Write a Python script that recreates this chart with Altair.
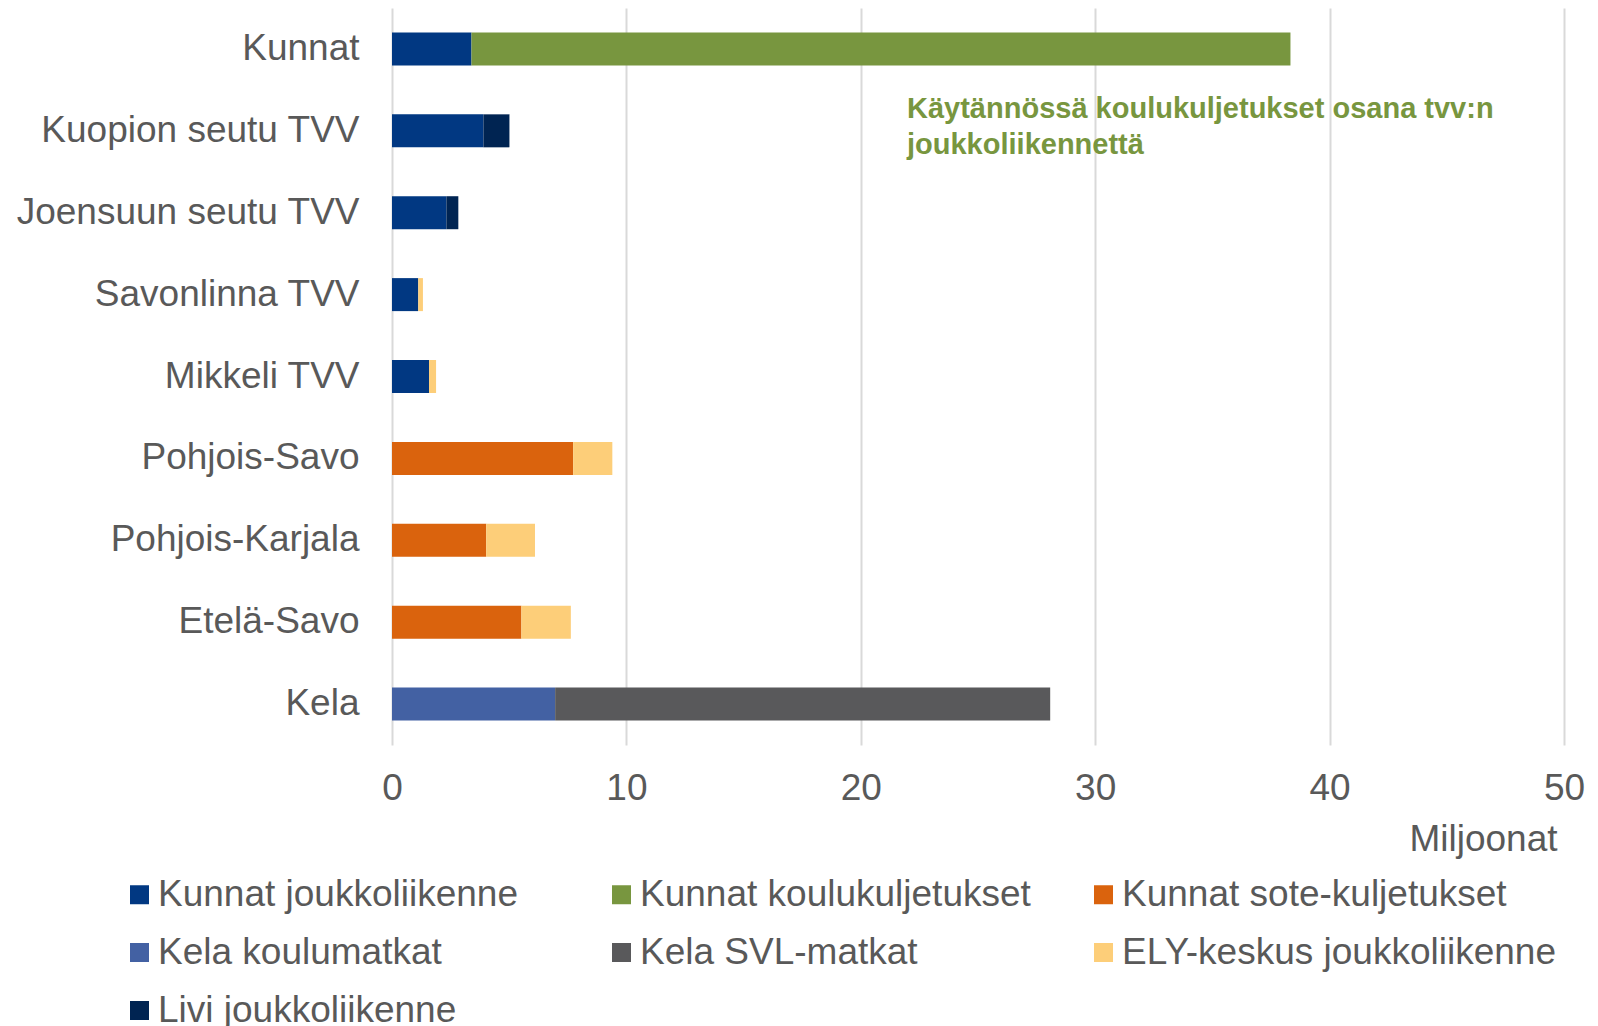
import altair as alt
import pandas as pd

categories = ["Kunnat", "Kuopion seutu TVV", "Joensuun seutu TVV", "Savonlinna TVV",
              "Mikkeli TVV", "Pohjois-Savo", "Pohjois-Karjala", "Etelä-Savo", "Kela"]

series = ["Kunnat joukkoliikenne", "Kunnat koulukuljetukset", "Kunnat sote-kuljetukset",
          "Kela koulumatkat", "Kela SVL-matkat", "ELY-keskus joukkoliikenne", "Livi joukkoliikenne"]
colors = ["#013882", "#78963F", "#DA630D", "#4361A3", "#59595B", "#FDCE79", "#002452"]

kunnat_joukko = [3.39, 3.90, 2.32, 1.12, 1.58, 0, 0, 0, 0]
kunnat_koulu = [34.94, 0, 0, 0, 0, 0, 0, 0, 0]
kunnat_sote = [0, 0, 0, 0, 0, 7.73, 4.02, 5.52, 0]
kela_koulu = [0, 0, 0, 0, 0, 0, 0, 0, 6.96]
kela_svl = [0, 0, 0, 0, 0, 0, 0, 0, 21.12]
ely_joukko = [0, 0, 0, 0.20, 0.30, 1.67, 2.08, 2.11, 0]
livi_joukko = [0, 1.11, 0.51, 0, 0, 0, 0, 0, 0]

values_by_series = [kunnat_joukko, kunnat_koulu, kunnat_sote, kela_koulu, kela_svl, ely_joukko, livi_joukko]

x_ticks = [0, 10, 20, 30, 40, 50]
annotation = "Käytännössä koulukuljetukset osana tvv:n\njoukkoliikennettä"

rows = []
for si, (name, vals) in enumerate(zip(series, values_by_series)):
    for cat, v in zip(categories, vals):
        if v > 0:
            rows.append({"cat": cat, "series": name, "value": v, "idx": si})
df = pd.DataFrame(rows)

txt = "#595959"
FONT = "Liberation Sans"
FS = 37

bars = alt.Chart(df).mark_bar(size=33).encode(
    y=alt.Y("cat:N", sort=categories,
            scale=alt.Scale(paddingInner=0.6, paddingOuter=0.3),
            axis=alt.Axis(title=None, ticks=False, domain=False, labelFontSize=FS,
                          labelColor=txt, labelPadding=33, labelFont=FONT, labelLimit=0)),
    x=alt.X("value:Q", stack="zero",
            scale=alt.Scale(domain=[0, 50], nice=False),
            axis=alt.Axis(values=x_ticks, title="Miljoonat", titleAnchor="end",
                          titleAlign="right", titleX=1165,
                          titleFontSize=FS, titleFontWeight="normal", titleColor=txt,
                          titleFont=FONT, titlePadding=15,
                          labelFontSize=FS, labelColor=txt, labelFont=FONT, labelPadding=25,
                          labelFlush=False,
                          ticks=False, domain=False, grid=True, gridColor="#D9D9D9",
                          gridWidth=2)),
    color=alt.Color("series:N", scale=alt.Scale(domain=series, range=colors),
                    legend=alt.Legend(title=None, orient="none", legendX=-271, legendY=868,
                                      direction="horizontal", columns=3, gridAlign="all",
                                      columnPadding=11, rowPadding=20, symbolType="square",
                                      symbolSize=361, symbolStrokeWidth=0, symbolOpacity=1,
                                      labelFontSize=FS, labelColor=txt, labelFont=FONT,
                                      labelOffset=0, labelLimit=0, padding=0)),
    order=alt.Order("idx:Q"),
)

note = alt.Chart(pd.DataFrame({"t": [annotation]})).mark_text(
    align="left", baseline="top", fontSize=29, fontWeight="bold", color="#78963F",
    font=FONT, lineBreak="\n", lineHeight=36,
).encode(x=alt.value(515), y=alt.value(87), text="t:N")

chart = alt.layer(bars, note).properties(
    width=1172, height=737,
    padding={"top": 0, "left": 7, "right": 5, "bottom": 0},
).configure_view(stroke=None, strokeWidth=0)

chart.save("out.html", embed_options={"renderer": "svg", "actions": False})
